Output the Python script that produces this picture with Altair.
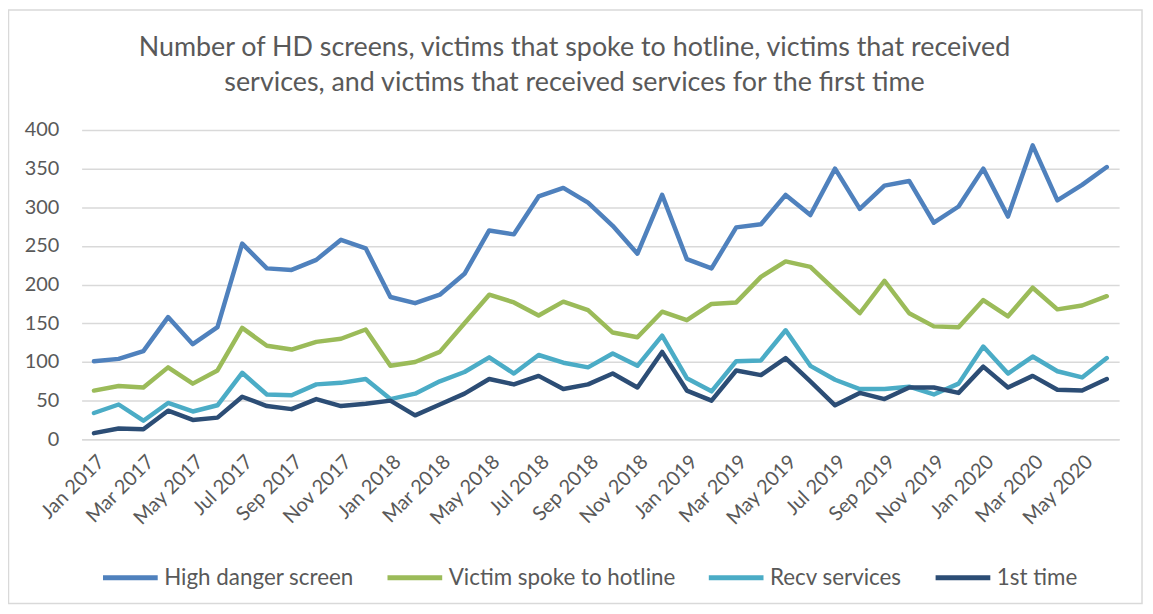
import altair as alt
import pandas as pd

month_names = ["Jan", "Feb", "Mar", "Apr", "May", "Jun", "Jul", "Aug", "Sep", "Oct", "Nov", "Dec"]
years = [2017, 2018, 2019, 2020]
months = [f"{m} {y}" for y in years for m in month_names][:42]

series_names = ["High danger screen", "Victim spoke to hotline", "Recv services", "1st time"]
series_colors = ["#4F81BD", "#9BBB59", "#4BACC6", "#2C4D75"]

high_danger = [101, 104, 114, 158, 123, 145, 253, 221, 219, 232, 258, 247,
               184, 176, 187, 214, 270, 265, 314, 325, 306, 276, 240, 316,
               233, 221, 274, 278, 316, 290, 350, 298, 328, 334, 280, 301,
               350, 288, 380, 309, 329, 352]
spoke_hotline = [63, 69, 67, 93, 72, 89, 144, 121, 116, 126, 130, 142,
                 95, 100, 113, 150, 187, 177, 160, 178, 167, 138, 132, 165,
                 154, 175, 177, 210, 230, 223, 193, 163, 205, 163, 146, 145,
                 180, 159, 196, 168, 173, 185]
recv_services = [34, 45, 24, 47, 36, 44, 86, 58, 57, 71, 73, 78,
                 52, 59, 75, 87, 106, 85, 109, 99, 93, 111, 95, 134,
                 79, 62, 101, 102, 141, 95, 77, 65, 65, 68, 58, 72,
                 120, 85, 107, 88, 80, 105]
first_time = [8, 14, 13, 37, 25, 28, 55, 43, 39, 52, 43, 46,
              50, 31, 45, 59, 78, 71, 82, 65, 71, 85, 67, 113,
              63, 50, 89, 83, 105, 75, 44, 60, 52, 67, 67, 60,
              94, 67, 82, 64, 63, 78]

y_ticks = [0, 50, 100, 150, 200, 250, 300, 350, 400]
x_label_months = months[::2]

rows = []
for name, vals in zip(series_names, [high_danger, spoke_hotline, recv_services, first_time]):
    for i, (m, v) in enumerate(zip(months, vals)):
        rows.append({"month": m, "series": name, "value": v, "order": i})
df = pd.DataFrame(rows)

FONT = "Lato"
TEXT = "#595959"
GRID = "#D9D9D9"

lines = alt.Chart(df).mark_line(strokeWidth=4.5, strokeCap="round", strokeJoin="round").encode(
    x=alt.X("month:O", sort=months,
            scale=alt.Scale(type="point", padding=0.5),
            axis=alt.Axis(title=None, values=x_label_months, labelAngle=-45,
                          labelAlign="right", labelBaseline="top",
                          labelPadding=12, ticks=False, domain=True,
                          domainColor=GRID, domainWidth=1.5, grid=False,
                          labelFont=FONT, labelFontSize=20, labelColor=TEXT)),
    y=alt.Y("value:Q", scale=alt.Scale(domain=[0, 400], nice=False),
            axis=alt.Axis(title=None, values=y_ticks, ticks=False, domain=False,
                          grid=True, gridColor=GRID, gridWidth=1.5,
                          labelPadding=23, labelFont=FONT, labelFontSize=20,
                          labelColor=TEXT)),
    color=alt.Color("series:N",
                    scale=alt.Scale(domain=series_names, range=series_colors),
                    legend=alt.Legend(title=None, orient="none", direction="horizontal",
                                      legendX=19, legendY=420,
                                      symbolType="stroke", symbolSize=3025,
                                      symbolStrokeWidth=5, labelOffset=4,
                                      columnPadding=23, labelFont=FONT,
                                      labelFontSize=22.5, labelColor=TEXT,
                                      labelLimit=400)),
    detail="series:N",
    order="order:Q",
)

frame = alt.Chart(alt.Data(values=[{}])).mark_rect(
    fill=None, stroke=GRID, strokeWidth=1.5
).encode(
    x=alt.value(-73.5), x2=alt.value(1066),
    y=alt.value(-120.5), y2=alt.value(476)
)

chart = alt.layer(frame, lines).properties(
    width=1043,
    height=311,
    padding={"left": 74, "top": 121, "right": 26, "bottom": 166},
    autosize=alt.AutoSizeParams(type="none"),
    title=alt.TitleParams(
        text=["Number of HD screens, victims that spoke to hotline, victims that received",
              "services, and victims that received services for the first time"],
        anchor="middle", frame="group", dx=-26, dy=88, offset=0, lineHeight=35,
        font=FONT, fontSize=27, fontWeight="normal", color=TEXT),
).configure_view(stroke=None)

chart.save("out.html", embed_options={"renderer": "svg", "actions": False})
